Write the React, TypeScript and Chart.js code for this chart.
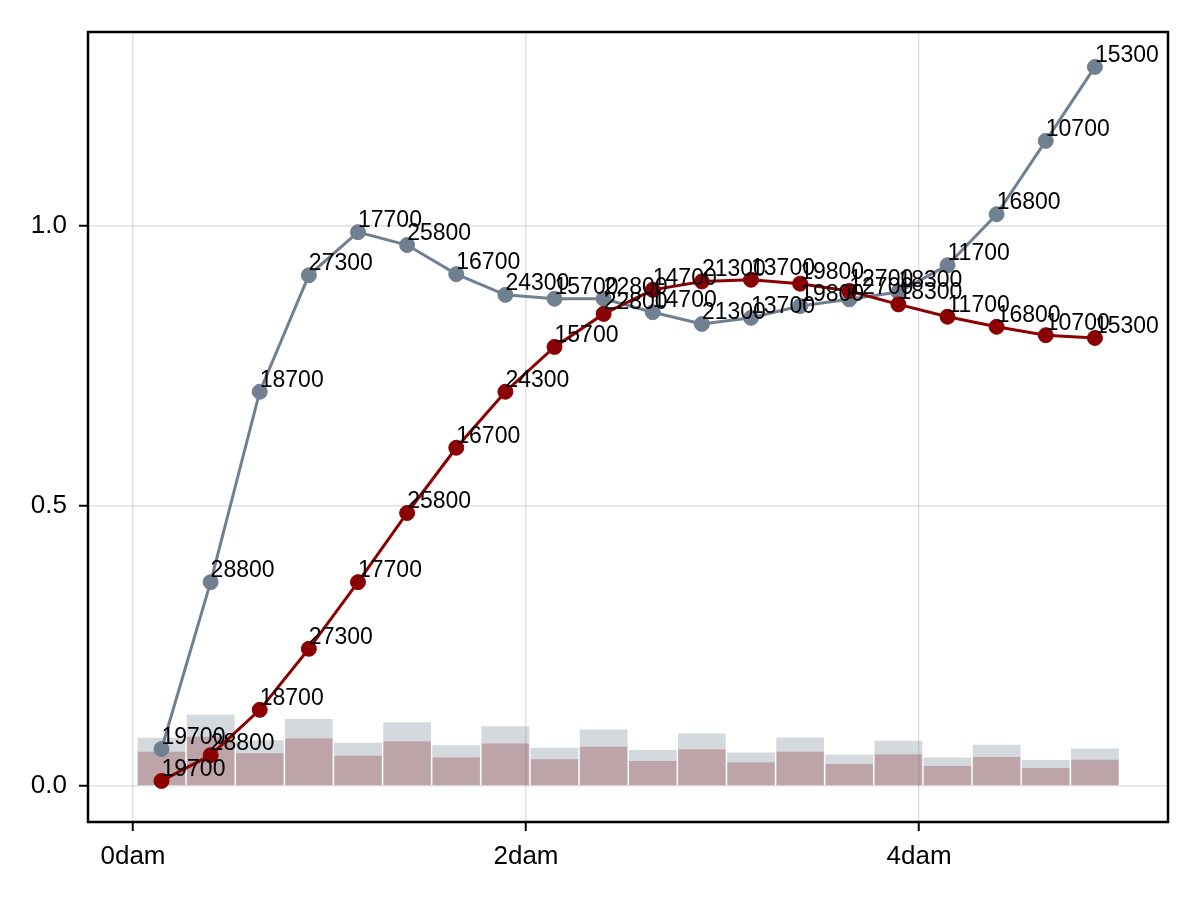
import React, { useEffect, useRef } from "react";
import { Chart, registerables } from "chart.js";

Chart.register(...registerables);

// bin centres (dam)
const xCenters = [0.145, 0.395, 0.645, 0.895, 1.145, 1.395, 1.645, 1.895, 2.145, 2.395, 2.645, 2.895, 3.145, 3.395, 3.645, 3.895, 4.145, 4.395, 4.645, 4.895];
const pointLabels = ["19700", "28800", "18700", "27300", "17700", "25800", "16700", "24300", "15700", "22800", "14700", "21300", "13700", "19800", "12700", "18300", "11700", "16800", "10700", "15300"];
const grayLine = [0.066, 0.364, 0.704, 0.912, 0.989, 0.966, 0.914, 0.877, 0.870, 0.870, 0.846, 0.825, 0.836, 0.857, 0.869, 0.882, 0.930, 1.021, 1.152, 1.284];
const redLine = [0.009, 0.055, 0.136, 0.245, 0.364, 0.4875, 0.604, 0.704, 0.784, 0.843, 0.886, 0.901, 0.904, 0.897, 0.884, 0.860, 0.838, 0.820, 0.805, 0.800];
const grayBars = [0.0875, 0.1286, 0.083, 0.121, 0.0786, 0.115, 0.074, 0.108, 0.0696, 0.102, 0.0655, 0.095, 0.061, 0.088, 0.057, 0.082, 0.052, 0.075, 0.0476, 0.068];
const redBars = [0.0625, 0.089, 0.0595, 0.086, 0.055, 0.081, 0.052, 0.077, 0.049, 0.0714, 0.046, 0.0667, 0.0435, 0.0625, 0.0405, 0.0577, 0.0369, 0.053, 0.0333, 0.048];
const xTicks = [0, 2, 4];
const yTicks = [0, 0.5, 1.0];

const FONT = "'Liberation Sans', Arial, sans-serif";
const GRAY = "rgb(112,128,144)";
const RED = "rgb(139,0,0)";

export default function App() {
  const ref = useRef<HTMLCanvasElement | null>(null);
  useEffect(() => {
    document.body.style.margin = "0";
    const canvas = ref.current;
    if (!canvas) return;
    const pts = (ys: number[]) => xCenters.map((x, i) => ({ x, y: ys[i] }));

    const labelPlugin = {
      id: "pointLabels",
      afterDatasetsDraw(chart: any) {
        const ctx = chart.ctx;
        ctx.save();
        ctx.font = `23px ${FONT}`;
        ctx.fillStyle = "#000";
        ctx.textAlign = "left";
        ctx.textBaseline = "bottom";
        chart.data.datasets.forEach((ds: any, di: number) => {
          if (ds.type !== "line") return;
          const meta = chart.getDatasetMeta(di);
          meta.data.forEach((el: any, i: number) => {
            ctx.fillText(pointLabels[i], el.x, el.y);
          });
        });
        ctx.restore();
      },
      afterDraw(chart: any) {
        const { ctx, chartArea } = chart;
        ctx.save();
        ctx.strokeStyle = "#000";
        ctx.lineWidth = 2.5;
        ctx.strokeRect(chartArea.left, chartArea.top, chartArea.right - chartArea.left, chartArea.bottom - chartArea.top);
        ctx.restore();
      },
    };

    const chart = new Chart(canvas, {
      type: "bar",
      data: {
        datasets: [
          {
            type: "line",
            data: pts(redLine),
            borderColor: RED,
            backgroundColor: RED,
            borderWidth: 3,
            pointRadius: 7.5,
            pointBorderWidth: 1,
            pointBorderColor: RED,
            pointBackgroundColor: RED,
            order: 1,
          },
          {
            type: "line",
            data: pts(grayLine),
            borderColor: GRAY,
            backgroundColor: GRAY,
            borderWidth: 3,
            pointRadius: 7.5,
            pointBorderWidth: 1,
            pointBorderColor: GRAY,
            pointBackgroundColor: GRAY,
            order: 2,
          },
          {
            type: "bar",
            data: pts(grayBars),
            backgroundColor: "rgba(112,128,144,0.3)",
            borderColor: "rgba(255,255,255,0.35)",
            borderWidth: 1,
            barPercentage: 1,
            categoryPercentage: 1,
            grouped: false,
            order: 3,
          },
          {
            type: "bar",
            data: pts(redBars),
            backgroundColor: "rgba(139,0,0,0.3)",
            borderColor: "rgba(255,255,255,0.35)",
            borderWidth: 1,
            barPercentage: 1,
            categoryPercentage: 1,
            grouped: false,
            order: 4,
          },
        ] as any,
      },
      options: {
        responsive: false,
        animation: false,
        layout: { padding: { left: 0, top: 32, right: 32, bottom: 0 } },
        plugins: { legend: { display: false }, tooltip: { enabled: false } },
        scales: {
          x: {
            type: "linear",
            min: -0.229,
            max: 5.267,
            offset: false,
            grid: { offset: false, color: "rgba(0,0,0,0.12)", lineWidth: 1.5, tickColor: "#000", tickLength: 9, tickWidth: 2 },
            border: { display: false },
            afterBuildTicks: (s: any) => { s.ticks = xTicks.map((v) => ({ value: v })); },
            afterFit: (s: any) => { s.height = 78; },
            ticks: {
              padding: 10,
              color: "#000",
              font: { size: 26, family: FONT },
              maxRotation: 0,
              callback: (v: any) => `${v}dam`,
            },
          },
          y: {
            type: "linear",
            min: -0.0643,
            max: 1.3464,
            grid: { color: "rgba(0,0,0,0.12)", lineWidth: 1.5, tickColor: "#000", tickLength: 9, tickWidth: 2 },
            border: { display: false },
            afterBuildTicks: (s: any) => { s.ticks = yTicks.map((v) => ({ value: v })); },
            afterFit: (s: any) => { s.width = 88; },
            ticks: {
              padding: 12,
              color: "#000",
              font: { size: 26, family: FONT },
              callback: (v: any) => Number(v).toFixed(1),
            },
          },
        },
      },
      plugins: [labelPlugin],
    });
    return () => chart.destroy();
  }, []);
  return (
    <div style={{ width: 1200, height: 900, background: "#fff" }}>
      <canvas ref={ref} width={1200} height={900} />
    </div>
  );
}
